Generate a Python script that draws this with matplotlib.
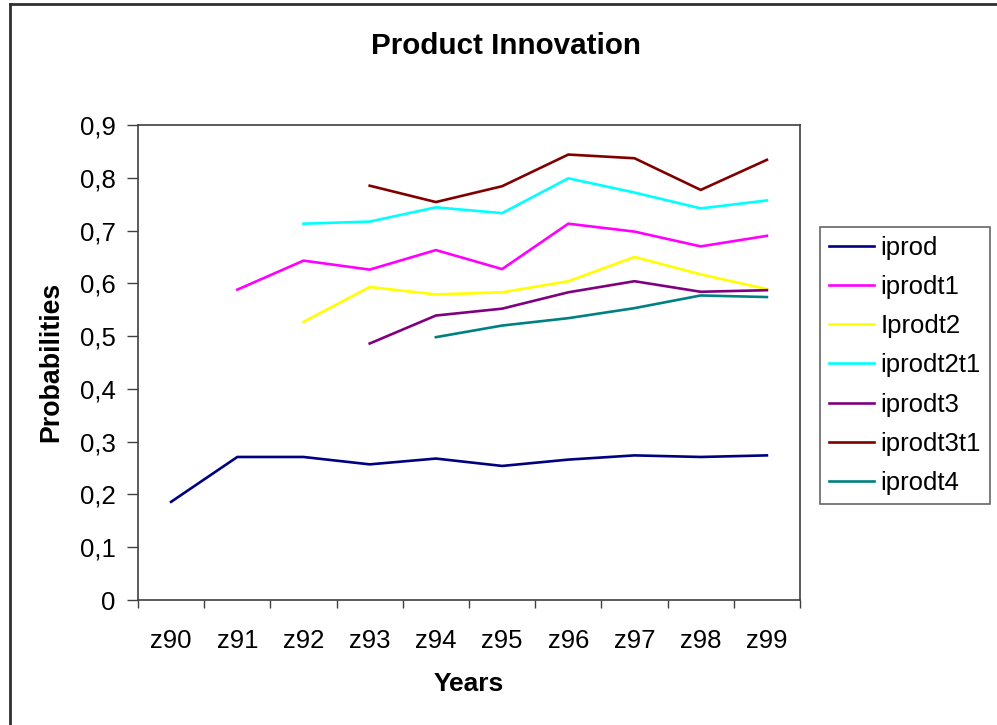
import numpy as np
import matplotlib
matplotlib.use("Agg")
import matplotlib.pyplot as plt
from matplotlib.ticker import FixedLocator, FuncFormatter
from matplotlib.lines import Line2D

plt.rcParams['font.family'] = ['Liberation Sans', 'DejaVu Sans']

years = ["z90", "z91", "z92", "z93", "z94", "z95", "z96", "z97", "z98", "z99"]
nan = np.nan

iprod = [0.186, 0.271, 0.271, 0.257, 0.268, 0.254, 0.266, 0.274, 0.271, 0.274]
iprodt1 = [nan, 0.588, 0.643, 0.626, 0.663, 0.627, 0.713, 0.698, 0.670, 0.690]
iprodt2 = [nan, nan, 0.527, 0.593, 0.579, 0.583, 0.604, 0.650, 0.617, 0.589]
iprodt2t1 = [nan, nan, 0.713, 0.717, 0.744, 0.733, 0.799, 0.772, 0.742, 0.757]
iprodt3 = [nan, nan, nan, 0.486, 0.539, 0.552, 0.583, 0.604, 0.584, 0.587]
iprodt3t1 = [nan, nan, nan, 0.785, 0.754, 0.784, 0.844, 0.837, 0.777, 0.834]
iprodt4 = [nan, nan, nan, nan, 0.498, 0.520, 0.534, 0.553, 0.577, 0.574]

series_names = ["iprod", "iprodt1", "Iprodt2", "iprodt2t1", "iprodt3", "iprodt3t1", "iprodt4"]
series_values = [iprod, iprodt1, iprodt2, iprodt2t1, iprodt3, iprodt3t1, iprodt4]
series_colors = ["#000080", "#FF00FF", "#FFFF00", "#00FFFF", "#800080", "#800000", "#008080"]

fig = plt.figure(figsize=(9.97, 7.25), dpi=100)
ax = fig.add_axes([138 / 997, 1 - 600 / 725, (800 - 138) / 997, (600 - 125) / 725])

x = np.arange(len(years))
for name, vals, col in zip(series_names, series_values, series_colors):
    ax.plot(x, np.array(vals, dtype=float), color=col, lw=1.9, label=name,
            solid_joinstyle='miter')

ax.set_xlim(-0.5, len(years) - 0.5)
ax.set_ylim(0, 0.9)

# category labels sit at bin centres, tick marks at bin edges
ax.set_xticks(x)
ax.set_xticklabels(years)
ax.xaxis.set_minor_locator(FixedLocator(np.arange(-0.5, len(years), 1.0)))
ax.tick_params(axis='x', which='major', length=0, pad=21, labelsize=18.5)
ax.tick_params(axis='x', which='minor', length=6, width=1.0, direction='out', color='#404040')

ax.set_yticks(np.arange(0, 0.91, 0.1))
ax.yaxis.set_major_formatter(FuncFormatter(
    lambda v, p: "0" if abs(v) < 1e-9 else f"{v:.1f}".replace('.', ',')))
ax.tick_params(axis='y', length=8, width=1.0, direction='out', pad=8,
               labelsize=18.5, color='#404040')

for sp in ax.spines.values():
    sp.set_color('#404040')
    sp.set_linewidth(1.2)

fig.text(506 / 997, 1 - 46 / 725, "Product Innovation", ha='center', va='center',
         fontsize=21.3, fontweight='bold')
fig.text(51 / 997, 1 - 362 / 725, "Probabilities", ha='center', va='center',
         rotation=90, fontsize=19.3, fontweight='bold')
fig.text(469 / 997, 1 - 684 / 725, "Years", ha='center', va='center',
         fontsize=19, fontweight='bold')

leg = fig.legend(loc='upper left', bbox_to_anchor=(820 / 997, 1 - 227 / 725),
                 bbox_transform=fig.transFigure, fontsize=18.5, frameon=True,
                 fancybox=False, shadow=False, borderaxespad=0, handlelength=1.75,
                 handletextpad=0.25, labelspacing=0.59, borderpad=0.35)
leg.get_frame().set_edgecolor('#404040')
leg.get_frame().set_linewidth(1.2)

# outer chart border
fig.add_artist(Line2D([10 / 997, 10 / 997], [0, 1 - 4 / 725], transform=fig.transFigure,
                      color='#303030', lw=2))
fig.add_artist(Line2D([10 / 997, 1], [1 - 4 / 725, 1 - 4 / 725], transform=fig.transFigure,
                      color='#303030', lw=2))

fig.savefig("out.png", dpi=100)
